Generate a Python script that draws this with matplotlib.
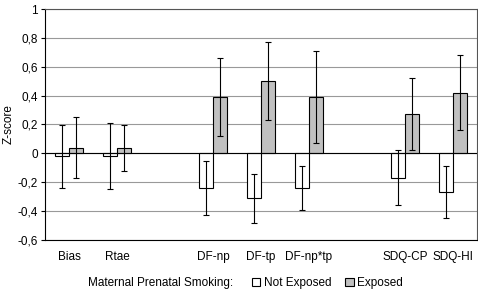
import matplotlib

matplotlib.use("Agg")

import matplotlib.pyplot as plt
import numpy as np
from matplotlib.ticker import FuncFormatter

plt.rcParams["font.family"] = ["Liberation Sans", "DejaVu Sans"]
plt.rcParams["font.size"] = 8.5

categories = ["Bias", "Rtae", "", "DF-np", "DF-tp", "DF-np*tp", "", "SDQ-CP", "SDQ-HI"]
not_exposed = [-0.02, -0.02, np.nan, -0.24, -0.31, -0.24, np.nan, -0.17, -0.27]
not_exposed_err = [0.22, 0.23, np.nan, 0.19, 0.17, 0.15, np.nan, 0.19, 0.18]
exposed = [0.04, 0.04, np.nan, 0.39, 0.50, 0.39, np.nan, 0.27, 0.42]
exposed_err = [0.21, 0.16, np.nan, 0.27, 0.27, 0.32, np.nan, 0.25, 0.26]


def comma_fmt(v, pos):
    if abs(v - round(v)) < 1e-9:
        return str(int(round(v)))
    return f"{v:.1f}".replace(".", ",")


W, H = 478, 298
fig = plt.figure(figsize=(W / 100, H / 100), dpi=100)
ax = fig.add_axes([45 / W, (H - 240) / H, 432 / W, 231 / H])

x = np.arange(len(categories))
bw = 0.29
err_kw = dict(ecolor="black", elinewidth=0.8, capsize=2.5, capthick=0.8)
ax.bar(x - bw / 2, not_exposed, bw, yerr=not_exposed_err, color="white",
       edgecolor="black", linewidth=0.8, label="Not Exposed", error_kw=err_kw, zorder=3)
ax.bar(x + bw / 2, exposed, bw, yerr=exposed_err, color="#c0c0c0",
       edgecolor="black", linewidth=0.8, label="Exposed", error_kw=err_kw, zorder=3)

ax.set_xlim(-0.5, len(categories) - 0.5)
ax.set_ylim(-0.6, 1.0)
ax.set_yticks(np.arange(-0.6, 1.01, 0.2))
ax.yaxis.set_major_formatter(FuncFormatter(comma_fmt))
ax.set_xticks(x)
ax.set_xticklabels(categories)
ax.tick_params(axis="x", length=0, pad=8)
ax.tick_params(axis="y", length=3, width=0.8, pad=2)
ax.axhline(0, color="black", linewidth=0.8, zorder=4)
ax.grid(axis="y", color="#999999", linewidth=0.8, zorder=0)
for s in ax.spines.values():
    s.set_color("#555555")
    s.set_linewidth(0.8)
ax.spines["left"].set_color("black")
ax.spines["bottom"].set_color("black")
ax.set_ylabel("Z-score", labelpad=2)

fig.text(88 / W, 1 - 283 / H, "Maternal Prenatal Smoking:", va="center", ha="left")
fig.legend(loc="center left", bbox_to_anchor=(252 / W, 1 - 283 / H), ncol=2, frameon=False,
           handlelength=0.7, handleheight=0.7, handletextpad=0.3, columnspacing=1.2,
           borderaxespad=0, borderpad=0)

fig.savefig("out.png", dpi=100)
